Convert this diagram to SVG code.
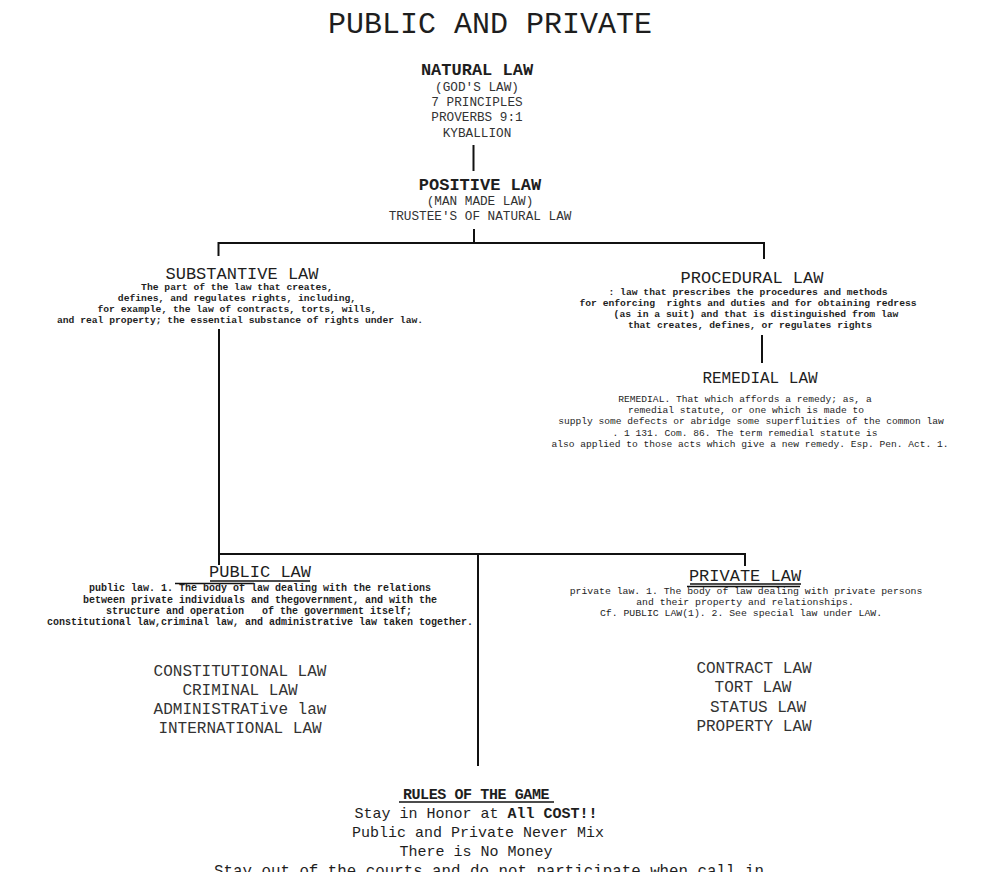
<svg xmlns="http://www.w3.org/2000/svg" width="1005" height="872" viewBox="0 0 1005 872">
<style>
text{font-family:"Liberation Mono","DejaVu Sans Mono",monospace;fill:#1e1e1e;text-anchor:middle}
.t{font-size:30px}
.h{font-size:17px;font-weight:bold}
.s{font-size:12.7px;fill:#333}
.hd{font-size:17px}
.b{font-size:9.7px;font-weight:bold}
.r{font-size:9.6px}
.l{font-size:16px;fill:#333}
.g{font-size:15px}
line{stroke:#111;stroke-width:2;fill:none}
.u{stroke-width:1.3}
</style>
<rect width="1005" height="872" fill="#ffffff"/>
<g id="connectors">
<line x1="473.5" y1="145" x2="473.5" y2="171"/>
<line x1="474" y1="229" x2="474" y2="243"/>
<line x1="218" y1="243" x2="764" y2="243"/>
<line x1="218.5" y1="242" x2="218.5" y2="256"/>
<line x1="764" y1="242" x2="764" y2="259"/>
<line x1="219" y1="329" x2="219" y2="565"/>
<line x1="762" y1="335" x2="762" y2="363"/>
<line x1="218" y1="554" x2="746" y2="554"/>
<line x1="745" y1="553" x2="745" y2="566"/>
<line x1="478" y1="553" x2="478" y2="766"/>
</g>
<g id="title"><text class="t" x="490" y="33">PUBLIC AND PRIVATE</text></g>
<g id="natural-law">
<text class="h" x="477" y="75">NATURAL LAW</text>
<text class="s" x="477" y="91">(GOD'S LAW)</text>
<text class="s" x="477" y="106">7 PRINCIPLES</text>
<text class="s" x="477" y="121">PROVERBS 9:1</text>
<text class="s" x="477" y="137">KYBALLION</text>
</g>
<g id="positive-law">
<text class="h" x="480" y="190">POSITIVE LAW</text>
<text class="s" x="480" y="205">(MAN MADE LAW)</text>
<text class="s" x="480" y="220">TRUSTEE'S OF NATURAL LAW</text>
</g>
<g id="substantive-law">
<text class="hd" x="242" y="279">SUBSTANTIVE LAW</text>
<text class="b" x="237" y="290">The part of the law that creates,</text>
<text class="b" x="237" y="301">defines, and regulates rights, including,</text>
<text class="b" x="237" y="312">for example, the law of contracts, torts, wills,</text>
<text class="b" x="240" y="323">and real property; the essential substance of rights under law.</text>
</g>
<g id="procedural-law">
<text class="hd" x="752" y="283">PROCEDURAL LAW</text>
<text class="b" x="748" y="295">: law that prescribes the procedures and methods</text>
<text class="b" x="748" y="306" xml:space="preserve">for enforcing  rights and duties and for obtaining redress</text>
<text class="b" x="756" y="317">(as in a suit) and that is distinguished from law</text>
<text class="b" x="750" y="328">that creates, defines, or regulates rights</text>
</g>
<g id="remedial-law">
<text class="hd" x="760" y="383" style="font-size:16px">REMEDIAL LAW</text>
<text class="r" x="745" y="402">REMEDIAL. That which affords a remedy; as, a</text>
<text class="r" x="746" y="413">remedial statute, or one which is made to</text>
<text class="r" x="751" y="424">supply some defects or abridge some superfluities of the common law</text>
<text class="r" x="745" y="436">. 1 131. Com. 86. The term remedial statute is</text>
<text class="r" x="750" y="447">also applied to those acts which give a new remedy. Esp. Pen. Act. 1.</text>
</g>
<g id="public-law">
<text class="hd" x="260" y="577">PUBLIC LAW</text>
<line class="u" x1="210" y1="581" x2="310" y2="581"/>
<line class="u" x1="175" y1="583.5" x2="254" y2="583.5"/>
<text class="b" x="260" y="591" style="font-size:10px">public law. 1. The body of law dealing with the relations</text>
<text class="b" x="260" y="603" style="font-size:10px">between private individuals and thegovernment, and with the</text>
<text class="b" x="259" y="614" style="font-size:10px" xml:space="preserve">structure and operation   of the government itself;</text>
<text class="b" x="260" y="625" style="font-size:10px">constitutional law,criminal law, and administrative law taken together.</text>
</g>
<g id="public-list">
<text class="l" x="240" y="676">CONSTITUTIONAL LAW</text>
<text class="l" x="240" y="695">CRIMINAL LAW</text>
<text class="l" x="240" y="714">ADMINISTRATive law</text>
<text class="l" x="240" y="733">INTERNATIONAL LAW</text>
</g>
<g id="private-law">
<text class="hd" x="745" y="581">PRIVATE LAW</text>
<line class="u" x1="690" y1="584" x2="801" y2="584"/>
<line class="u" x1="687" y1="586.5" x2="800" y2="586.5"/>
<text class="r" x="746" y="594" style="font-size:9.8px">private law. 1. The body of law dealing with private persons</text>
<text class="r" x="745" y="605" style="font-size:9.8px">and their property and relationships.</text>
<text class="r" x="741" y="616" style="font-size:9.8px">Cf. PUBLIC LAW(1). 2. See special law under LAW.</text>
</g>
<g id="private-list">
<text class="l" x="754" y="673">CONTRACT LAW</text>
<text class="l" x="753" y="692">TORT LAW</text>
<text class="l" x="758" y="712">STATUS LAW</text>
<text class="l" x="754" y="731">PROPERTY LAW</text>
</g>
<g id="rules">
<text class="g" x="476" y="798.5" style="font-weight:bold;font-size:15px;letter-spacing:-0.4px">RULES OF THE GAME</text>
<line class="u" x1="399" y1="802" x2="554" y2="802"/>
<text class="g" x="476" y="818">Stay in Honor at <tspan font-weight="bold">All COST!!</tspan></text>
<text class="g" x="478" y="837">Public and Private Never Mix</text>
<text class="g" x="476" y="856">There is No Money</text>
<text class="g" x="489" y="876" style="font-size:15.8px">Stay out of the courts and do not participate when call in</text>
</g>
</svg>
